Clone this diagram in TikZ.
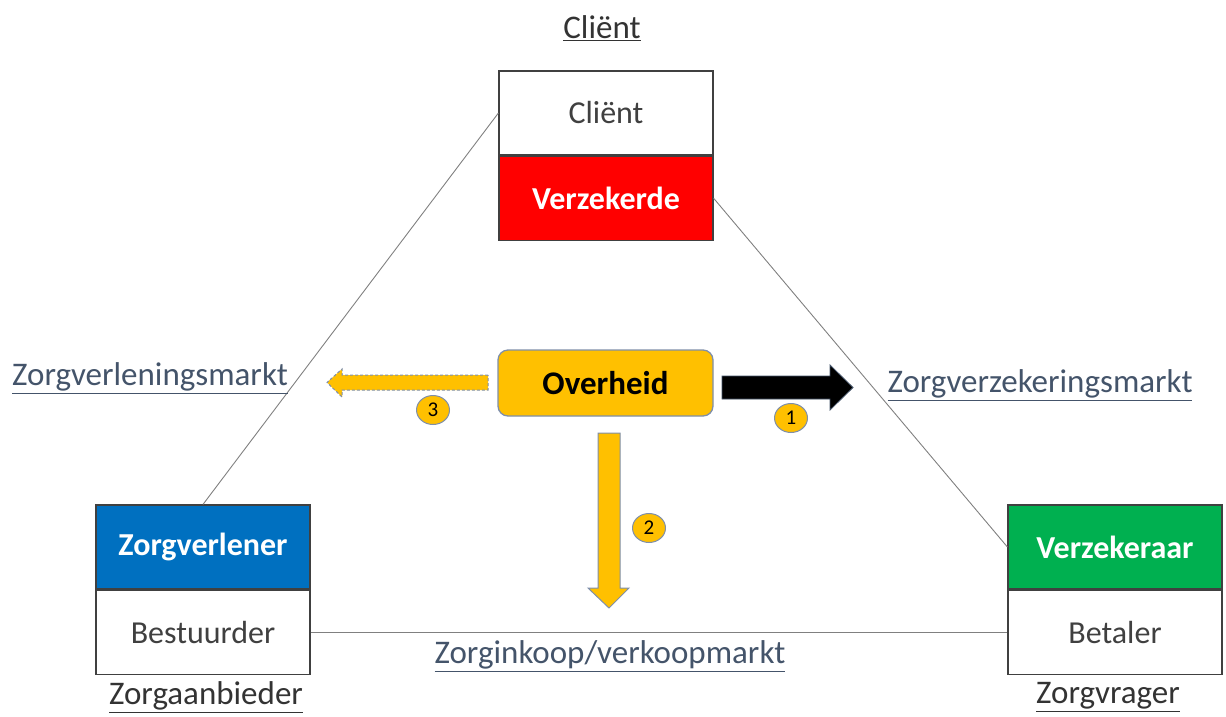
\documentclass[tikz,border=0pt]{standalone}
\usepackage{fontspec}
\setmainfont{Carlito}
\usetikzlibrary{positioning,shapes.geometric}

\definecolor{ovgeel}{HTML}{FFC000}
\definecolor{ovrand}{HTML}{7F8FA9}
\definecolor{markt}{HTML}{44546A}
\definecolor{boxrand}{HTML}{404040}
\definecolor{rood}{HTML}{FF0000}
\definecolor{blauw}{HTML}{0070C0}
\definecolor{groen}{HTML}{00B050}

\begin{document}
\begin{tikzpicture}[
x=1pt,y=-1pt,
every node/.style={font=\fontsize{33}{38}\selectfont},
half/.style={
draw=boxrand,
line width=1.2pt,
minimum width=214pt,
minimum height=84pt,
inner sep=0pt,
text=black!75,
font=\fontsize{32}{38}\selectfont
},
kleur/.style={half, fill=#1, text=white, font=\fontsize{32}{38}\selectfont\bfseries},
rol/.style={text=black!80},
markt/.style={text=markt},
nummer/.style={
ellipse,
draw=ovrand,
line width=1pt,
fill=ovgeel,
minimum width=33pt,
minimum height=29pt,
inner sep=0pt,
font=\fontsize{21}{24}\selectfont
},
verbinding/.style={draw=black!50, line width=0.9pt}
]
\useasboundingbox (0,0) rectangle (1226,716);

% driehoek van partijen
\node[half] (client) at (606,113) {Cliënt};
\node[kleur=rood, below=0pt of client] (verzekerde) {Verzekerde};

\node[kleur=blauw] (zorgverlener) at (203,547) {Zorgverlener};
\node[half, below=0pt of zorgverlener] (bestuurder) {Bestuurder};

\node[kleur=groen] (verzekeraar) at (1115,547) {Verzekeraar};
\node[half, below=0pt of verzekeraar] (betaler) {Betaler};

\node[rol] (clientlabel) at (602,28) {\underline{Cliënt}};
\node[rol] (aanbieder) at (206,697) {\underline{Zorgaanbieder}};
\node[rol] (vrager) at (1108,697) {\underline{Zorgvrager}};

\draw[verbinding] (client.west)--(zorgverlener.north);
\draw[verbinding] (verzekerde.east)--(verzekeraar.west);
\draw[verbinding] (bestuurder.east)--(betaler.west);

% markten
\node[markt] (zvlmarkt) at (150,378) {\underline{Zorgverleningsmarkt}};
\node[markt] (zvzmarkt) at (1040,385) {\underline{Zorgverzekeringsmarkt}};
\node[markt] (inkoop) at (610,656) {\underline{Zorginkoop/verkoopmarkt}};

% overheid
\node[
draw=ovrand,
line width=1.3pt,
fill=ovgeel,
rounded corners=10pt,
minimum width=215pt,
minimum height=66pt,
font=\fontsize{33}{38}\selectfont\bfseries
] (overheid) at (605.5,383) {Overheid};

% pijlen
\filldraw[fill=ovgeel, draw=ovrand, line width=1pt, dashed, dash pattern=on 3pt off 2pt]
(488,375)--(342,375)--(342,369)--(327,382.5)--(342,397)--(342,390)--(488,390)--cycle;
\filldraw[fill=black, draw=markt, line width=0.8pt]
(722,376)--(830,376)--(830,365)--(853,387.5)--(830,410)--(830,399)--(722,399)--cycle;
\filldraw[fill=ovgeel, draw=ovrand, line width=1pt]
(598,433)--(620,433)--(620,588)--(629,588)--(609,608)--(588,588)--(598,588)--cycle;

\node[nummer] (n3) at (433,410) {3};
\node[nummer] (n1) at (791,418) {1};
\node[nummer] (n2) at (649,528) {2};

\end{tikzpicture}
\end{document}
